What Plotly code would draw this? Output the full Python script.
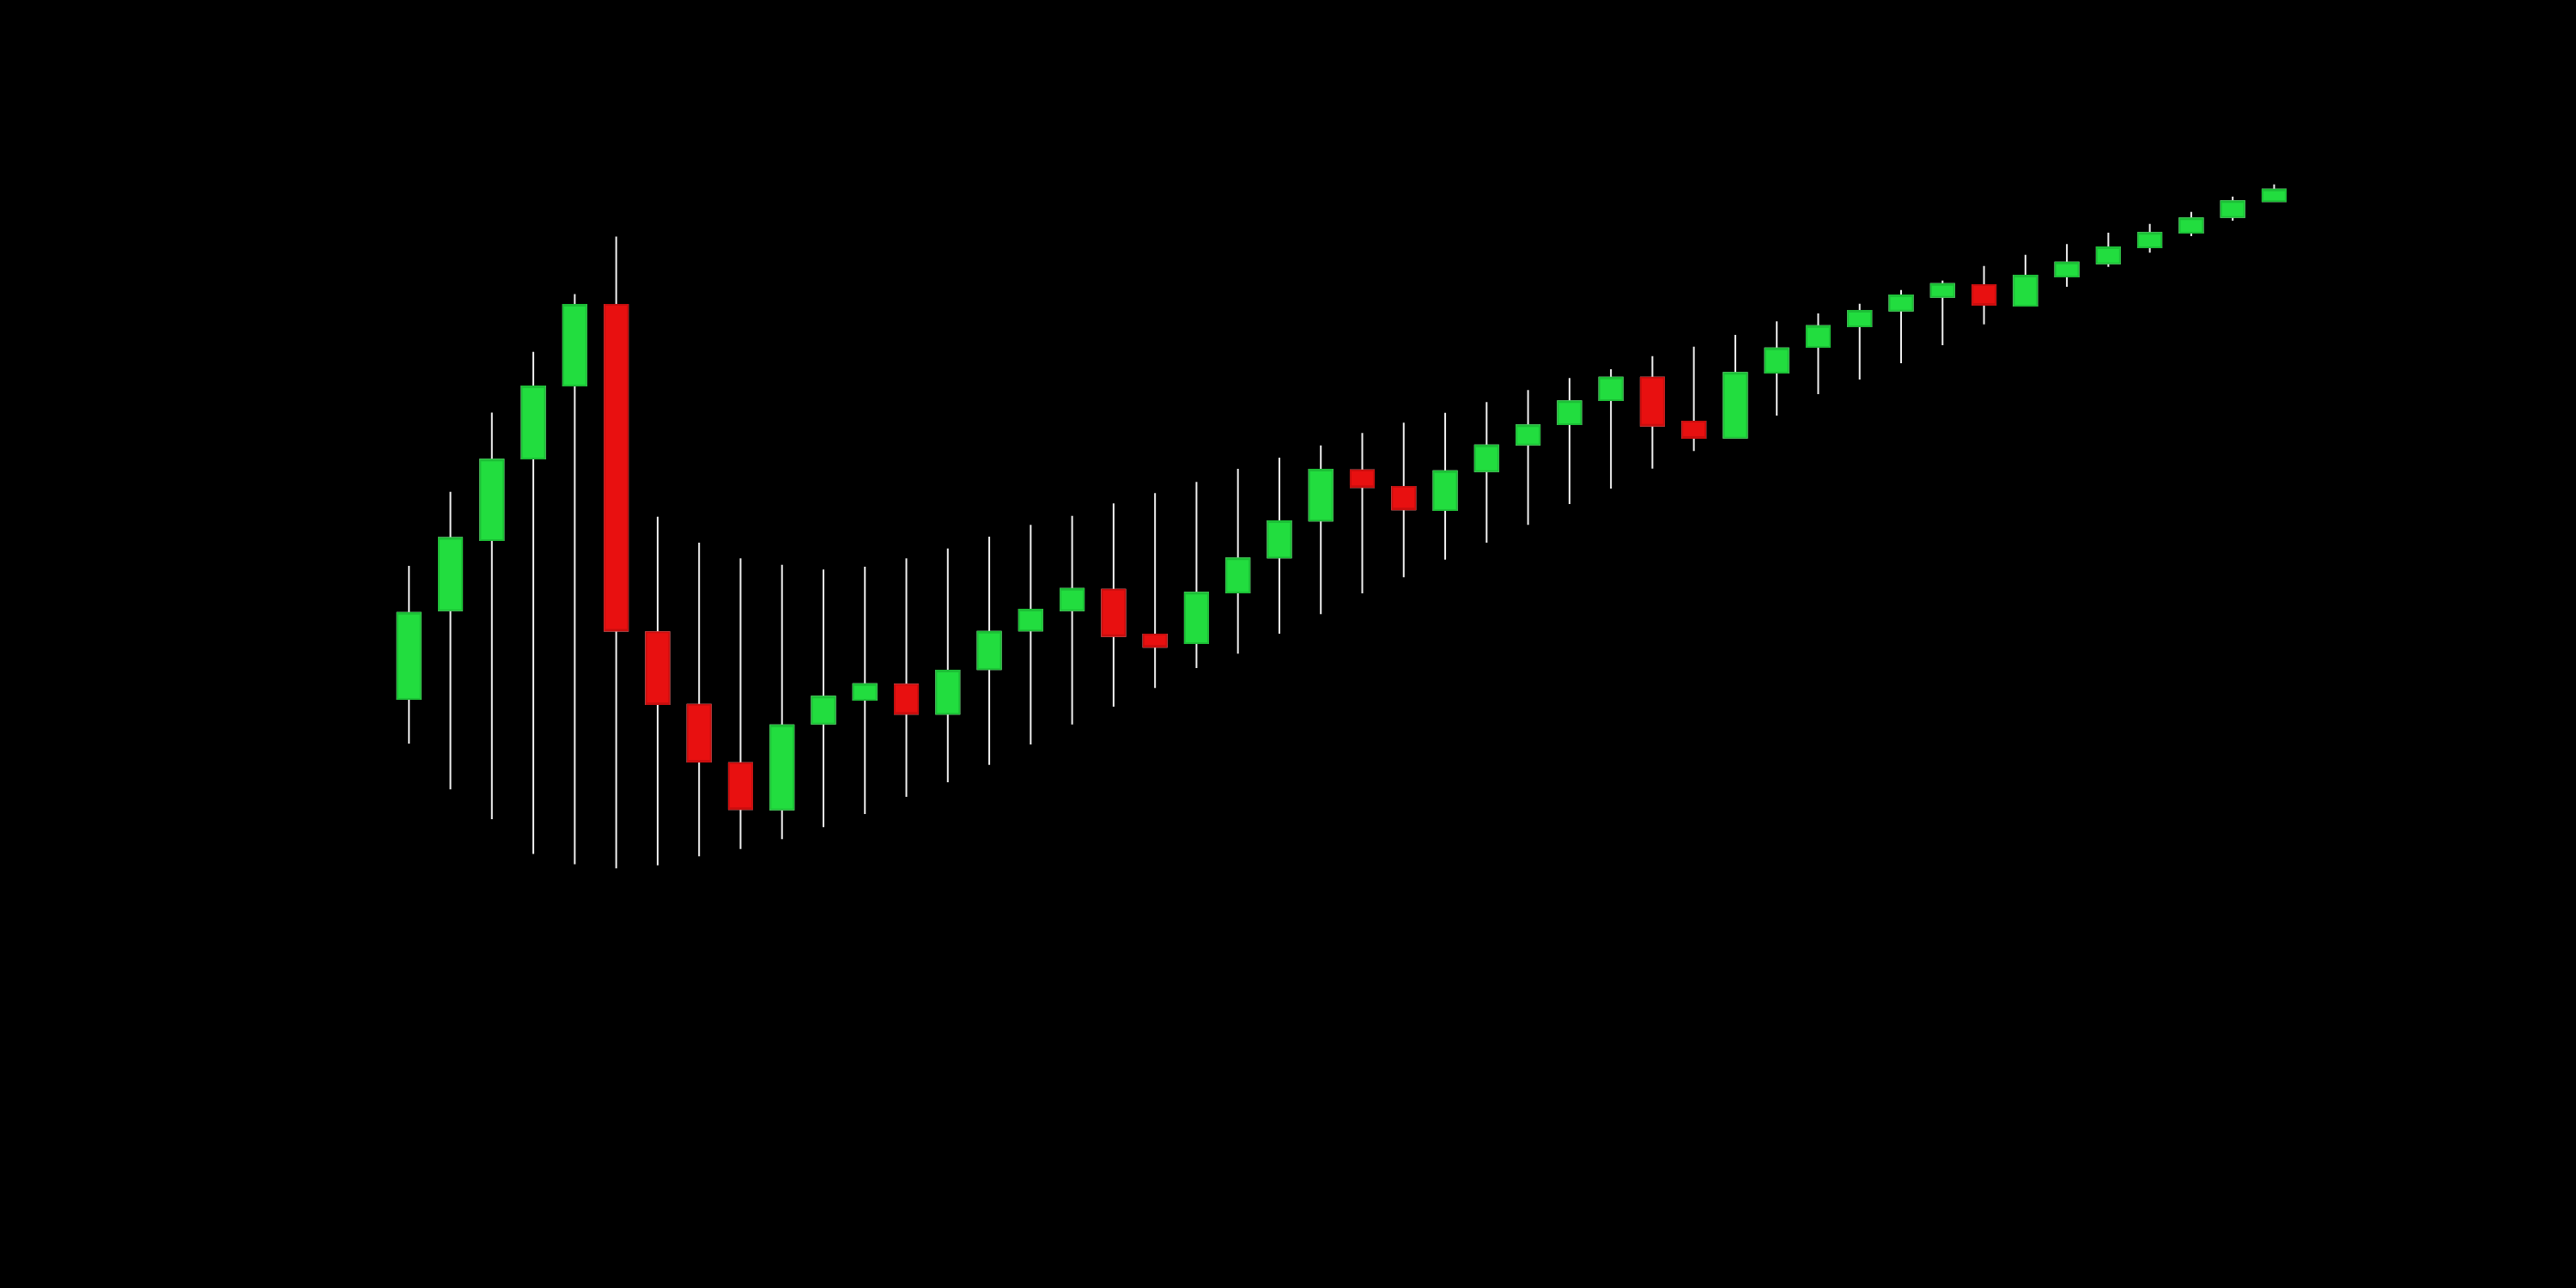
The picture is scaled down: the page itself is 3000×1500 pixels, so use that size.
import plotly.graph_objects as go

# 46 sessions, prices
session = list(range(46))

open_ = [68.59, 78.92, 87.11, 96.61, 105.10, 114.50, 76.37, 67.93, 61.13, 55.73,
         65.73, 68.50, 70.27, 66.87, 72.07, 76.57, 78.93, 81.33, 76.10, 75.10,
         81.00, 85.07, 89.37, 95.23, 93.30, 90.60, 95.13, 98.23, 100.60, 103.40,
         106.03, 100.90, 99.03, 106.60, 109.60, 112.00, 113.83, 115.43, 116.80, 114.40,
         117.80, 119.33, 121.20, 122.90, 124.73, 126.57]
high = [84.11, 92.73, 101.94, 109.02, 115.76, 122.45, 89.83, 86.80, 84.97, 84.23,
        83.67, 84.00, 84.97, 86.13, 87.50, 88.87, 89.93, 91.37, 92.57, 93.87,
        95.40, 96.70, 98.13, 99.57, 100.77, 101.93, 103.17, 104.57, 105.97, 107.00,
        108.53, 109.63, 111.00, 112.57, 113.50, 114.63, 116.23, 117.33, 119.03, 120.33,
        121.57, 122.90, 123.93, 125.33, 127.10, 128.53]
low = [63.41, 58.08, 54.59, 50.56, 49.35, 48.87, 49.23, 50.27, 51.13, 52.27,
       53.67, 55.20, 57.20, 58.90, 60.93, 63.30, 65.63, 67.70, 69.87, 72.20,
       73.87, 76.20, 78.47, 80.90, 82.77, 84.83, 86.80, 88.87, 91.30, 93.10,
       95.43, 97.47, 98.95, 101.60, 104.10, 105.80, 107.70, 109.80, 112.23, 114.35,
       116.60, 118.93, 120.57, 122.50, 124.30, 126.50]
close = [78.63, 87.35, 96.47, 105.00, 114.50, 76.54, 68.00, 61.30, 55.77, 65.53,
         68.87, 70.33, 66.87, 71.90, 76.43, 79.00, 81.43, 75.93, 74.67, 80.97,
         84.97, 89.30, 95.30, 93.27, 90.67, 95.13, 98.13, 100.47, 103.27, 106.03,
         100.43, 99.00, 106.57, 109.43, 112.03, 113.80, 115.60, 116.93, 114.50, 117.90,
         119.43, 121.20, 122.87, 124.57, 126.57, 127.93]

GREEN = "#22dd3f"
RED = "#e81010"
WICK = "#f2f2f2"

body_top = [max(o, c) for o, c in zip(open_, close)]
body_bot = [min(o, c) for o, c in zip(open_, close)]

fig = go.Figure()

# first layer: full high/low range in white (the wicks)
fig.add_trace(go.Candlestick(
    x=session, open=open_, high=high, low=low, close=close,
    increasing=dict(fillcolor=WICK, line=dict(color=WICK, width=2)),
    decreasing=dict(fillcolor=WICK, line=dict(color=WICK, width=2)),
    hoverinfo="skip",
))

# second layer: coloured bodies covering the white boxes
fig.add_trace(go.Candlestick(
    x=session, open=open_, high=body_top, low=body_bot, close=close,
    increasing=dict(fillcolor=GREEN, line=dict(color="#1cbf36", width=2)),
    decreasing=dict(fillcolor=RED, line=dict(color="#c90e0e", width=2)),
))

fig.update_layout(
    width=3000,
    height=1500,
    margin=dict(l=0, r=0, t=0, b=0),
    paper_bgcolor="black",
    plot_bgcolor="black",
    showlegend=False,
    boxmode="overlay",
    boxgap=0.2,
    boxgroupgap=0.3,
    xaxis=dict(visible=False, range=[-9.867, 52.283], rangeslider=dict(visible=False)),
    yaxis=dict(visible=False, range=[0, 150]),
)

fig.write_html(
    "out.html",
    config={"displayModeBar": False},
    post_script="document.body.style.margin='0';document.body.style.background='black';",
)
